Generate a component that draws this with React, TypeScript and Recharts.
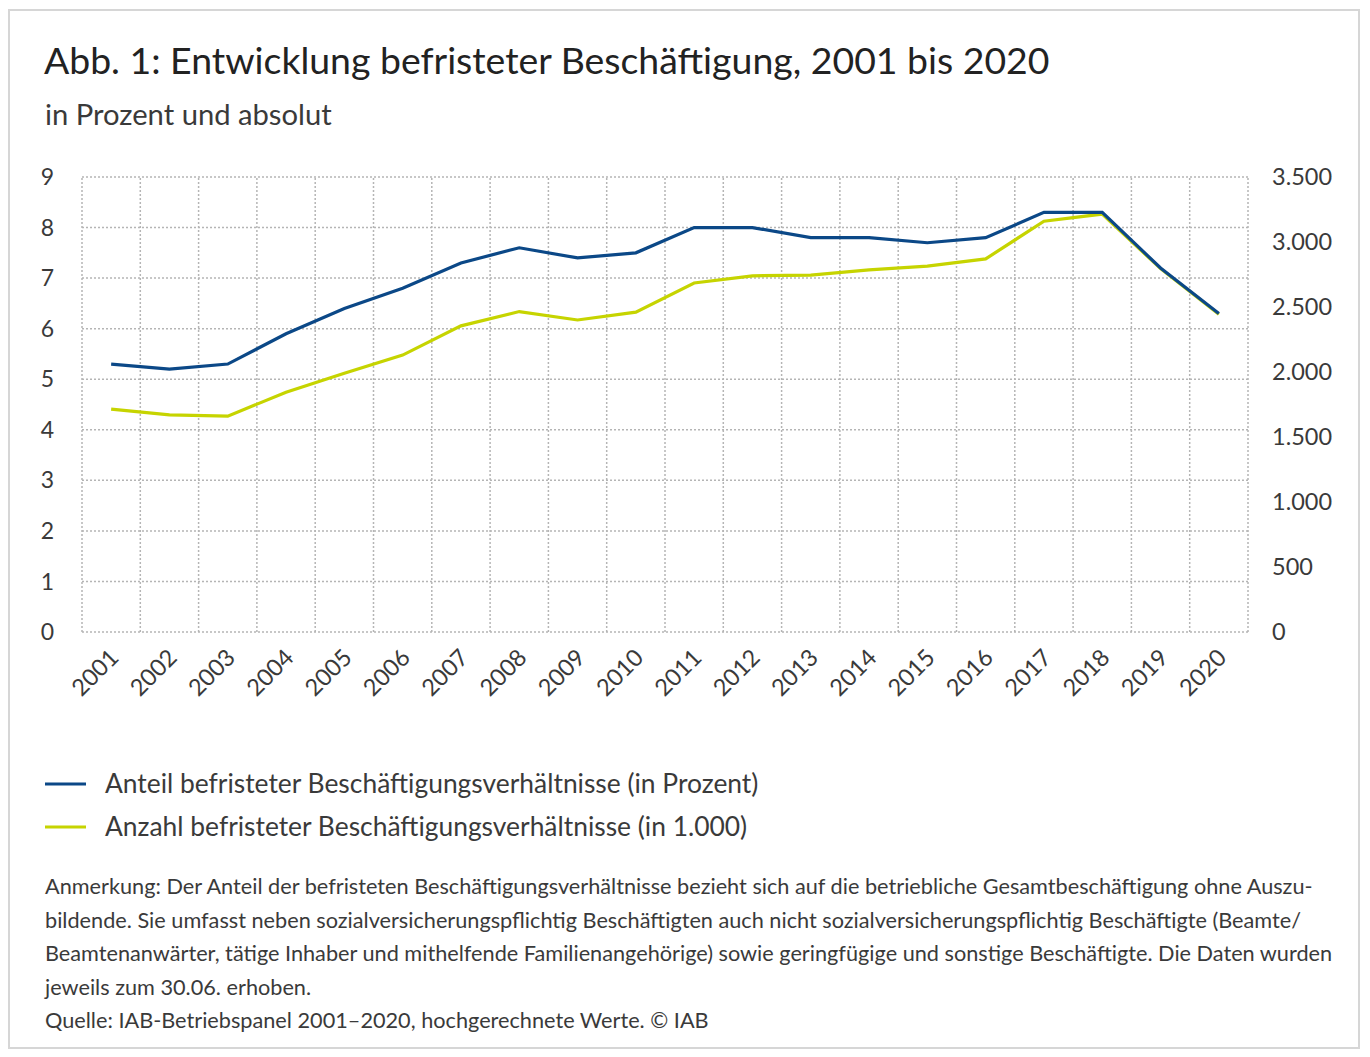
import React from 'react';
import { LineChart, Line, XAxis, YAxis, CartesianGrid, ReferenceLine } from 'recharts';

const years = [2001, 2002, 2003, 2004, 2005, 2006, 2007, 2008, 2009, 2010, 2011, 2012, 2013, 2014, 2015, 2016, 2017, 2018, 2019, 2020];
const anteilProzent = [5.3, 5.2, 5.3, 5.9, 6.4, 6.8, 7.3, 7.6, 7.4, 7.5, 8.0, 8.0, 7.8, 7.8, 7.7, 7.8, 8.3, 8.3, 7.2, 6.3];
const anzahlTausend = [1715, 1670, 1660, 1845, 1990, 2130, 2355, 2465, 2400, 2460, 2685, 2740, 2745, 2785, 2815, 2870, 3160, 3215, 2795, 2445];
const leftTicks = [0, 1, 2, 3, 4, 5, 6, 7, 8, 9];
const rightTicks = [0, 500, 1000, 1500, 2000, 2500, 3000, 3500];

const titleText = 'Abb. 1: Entwicklung befristeter Beschäftigung, 2001 bis 2020';
const subtitleText = 'in Prozent und absolut';
const legendAnteil = 'Anteil befristeter Beschäftigungsverhältnisse (in Prozent)';
const legendAnzahl = 'Anzahl befristeter Beschäftigungsverhältnisse (in 1.000)';
const noteLines = [
  'Anmerkung: Der Anteil der befristeten Beschäftigungsverhältnisse bezieht sich auf die betriebliche Gesamtbeschäftigung ohne Auszu-',
  'bildende. Sie umfasst neben sozialversicherungspflichtig Beschäftigten auch nicht sozialversicherungspflichtig Beschäftigte (Beamte/',
  'Beamtenanwärter, tätige Inhaber und mithelfende Familienangehörige) sowie geringfügige und sonstige Beschäftigte. Die Daten wurden',
  'jeweils zum 30.06. erhoben.',
  'Quelle: IAB-Betriebspanel 2001–2020, hochgerechnete Werte. © IAB',
];

const BLUE = '#0b4887';
const GREEN = '#c6d400';
const FONT = "Lato, 'Open Sans', sans-serif";
const TEXT = '#3a3a3a';

const data = years.map((year, i) => ({ year, anteil: anteilProzent[i], anzahl: anzahlTausend[i] }));
const bandEdges = [...years.map((y) => y - 0.5), years[years.length - 1] + 0.5];

const fmtDE = (n: number) => String(n).replace(/\B(?=(\d{3})+(?!\d))/g, '.');

const XTick = (props: any) => {
  const { x, y, payload } = props;
  return (
    <g transform={`translate(${x + 9},${y})`}>
      <text x={0} y={0} textAnchor="end" transform="rotate(-45)" fill={TEXT} fontSize={23.5} fontFamily={FONT}>
        {payload.value}
      </text>
    </g>
  );
};

export default function App() {
  return (
    <div style={{ position: 'absolute', left: 0, top: 0, width: 1370, height: 1057, background: '#fff', fontFamily: FONT }}>
      <div style={{ position: 'absolute', left: 8, top: 9, width: 1352, height: 1040, border: '2px solid #d6d6d6', boxSizing: 'border-box' }} />
      <div style={{ position: 'absolute', left: 0, top: 0 }}>
        <LineChart width={1370} height={720} data={data} margin={{ top: 177, right: 22, bottom: 28, left: 42 }}>
          <CartesianGrid yAxisId="left" vertical={false} stroke="#b5b5b5" strokeDasharray="2 2" strokeWidth={1.5} />
          {bandEdges.map((e) => (
            <ReferenceLine key={e} x={e} yAxisId="left" stroke="#b5b5b5" strokeDasharray="2 2" strokeWidth={1.5} />
          ))}
          <XAxis
            dataKey="year"
            type="number"
            domain={[bandEdges[0], bandEdges[bandEdges.length - 1]]}
            ticks={years}
            interval={0}
            axisLine={false}
            tickLine={false}
            tickSize={0}
            tickMargin={27}
            height={60}
            tick={<XTick />}
          />
          <YAxis
            yAxisId="left"
            orientation="left"
            domain={[0, 9]}
            ticks={leftTicks}
            axisLine={false}
            tickLine={false}
            tickSize={0}
            tickMargin={28}
            width={40}
            tick={{ fill: TEXT, fontSize: 23, fontFamily: FONT }}
          />
          <YAxis
            yAxisId="right"
            orientation="right"
            domain={[0, 3500]}
            ticks={rightTicks}
            axisLine={false}
            tickLine={false}
            tickSize={0}
            tickMargin={24}
            width={100}
            tickFormatter={fmtDE}
            tick={{ fill: TEXT, fontSize: 23.5, fontFamily: FONT, textAnchor: 'start' }}
          />
          <Line yAxisId="right" dataKey="anzahl" stroke={GREEN} strokeWidth={3.2} dot={false} isAnimationActive={false} />
          <Line yAxisId="left" dataKey="anteil" stroke={BLUE} strokeWidth={3.2} dot={false} isAnimationActive={false} />
        </LineChart>
      </div>
      <svg width={1370} height={1057} style={{ position: 'absolute', left: 0, top: 0, pointerEvents: 'none' }}>
        <text x={44} y={74} fontSize={37.4} fill="#222" fontFamily={FONT}>{titleText}</text>
        <text x={45} y={125} fontSize={29.2} fill={TEXT} fontFamily={FONT}>{subtitleText}</text>
        <line x1={45} x2={86} y1={784} y2={784} stroke={BLUE} strokeWidth={3} />
        <text x={105} y={793} fontSize={26.4} fill={TEXT} fontFamily={FONT}>{legendAnteil}</text>
        <line x1={45} x2={86} y1={827} y2={827} stroke={GREEN} strokeWidth={3} />
        <text x={105} y={836} fontSize={26.4} fill={TEXT} fontFamily={FONT}>{legendAnzahl}</text>
        {noteLines.map((t, i) => (
          <text key={i} x={45} y={894 + i * 33.5} fontSize={21.7} fill={TEXT} fontFamily={FONT}>{t}</text>
        ))}
      </svg>
    </div>
  );
}
